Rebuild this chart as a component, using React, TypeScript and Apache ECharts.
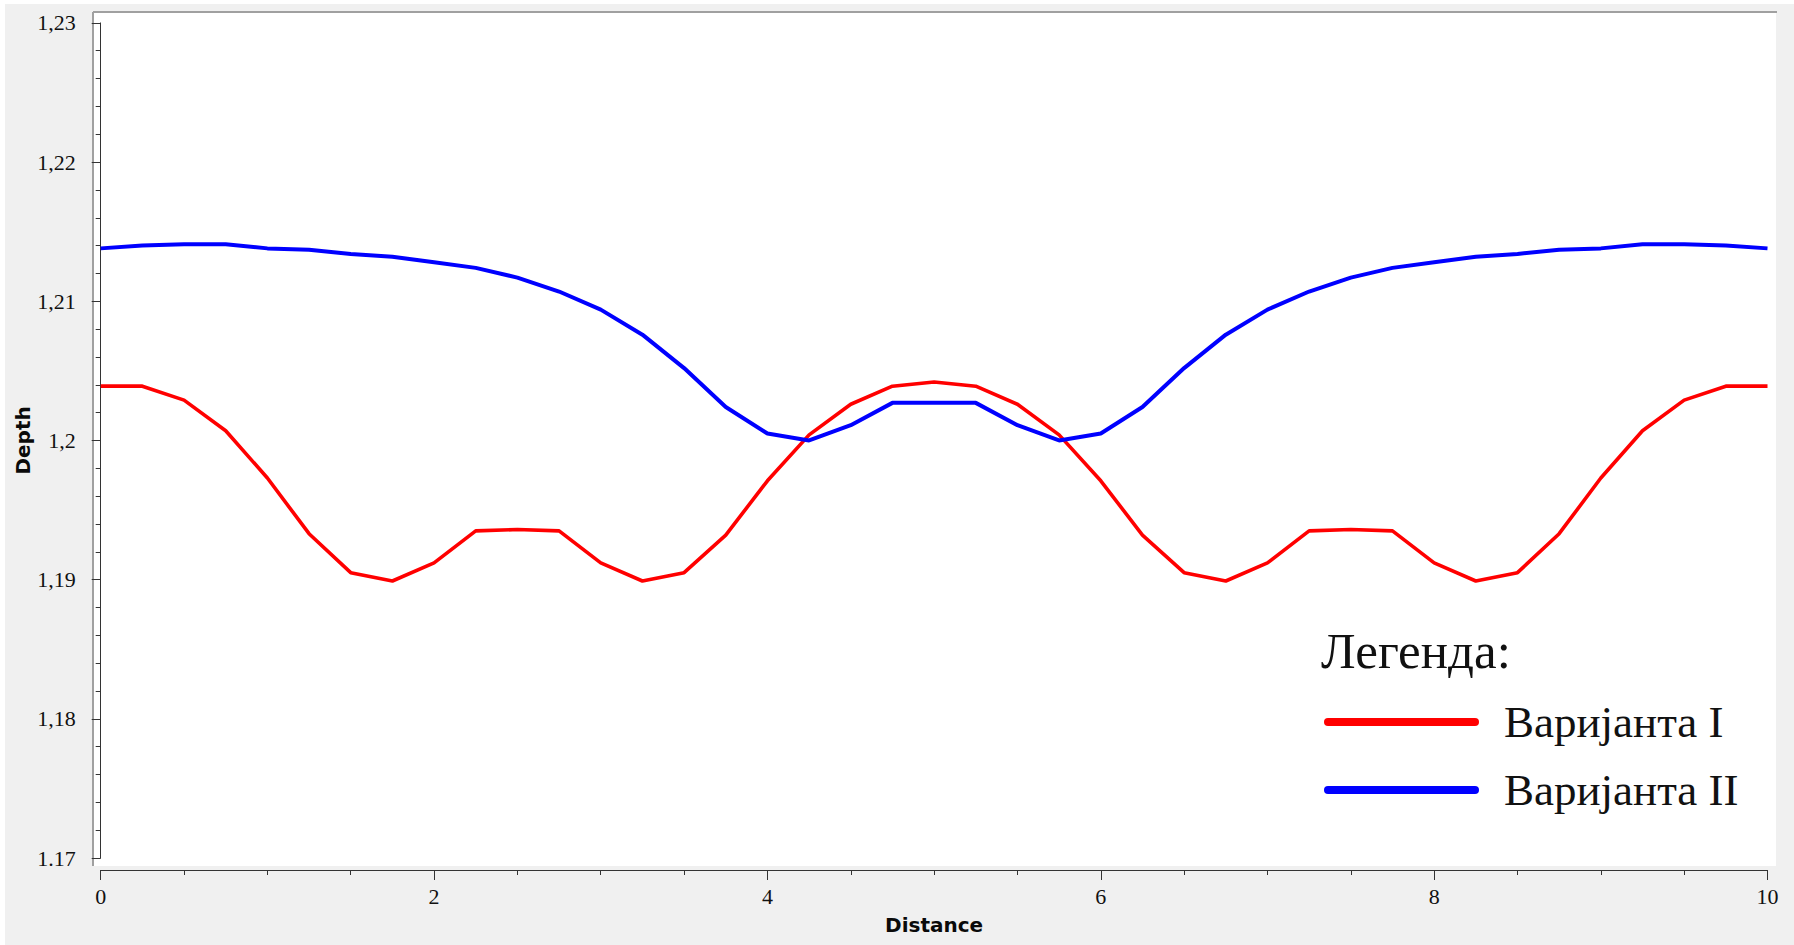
import React, { useEffect, useRef } from "react";
import * as echarts from "echarts";

const distance = [
  0, 0.25, 0.5, 0.75, 1, 1.25, 1.5, 1.75, 2, 2.25, 2.5, 2.75, 3, 3.25, 3.5, 3.75, 4, 4.25, 4.5, 4.75, 5,
  5.25, 5.5, 5.75, 6, 6.25, 6.5, 6.75, 7, 7.25, 7.5, 7.75, 8, 8.25, 8.5, 8.75, 9, 9.25, 9.5, 9.75, 10,
];

const varijantaI = [
  1.2039, 1.2039, 1.2029, 1.2007, 1.1973, 1.1933, 1.1905, 1.1899, 1.1912, 1.1935, 1.1936, 1.1935, 1.1912,
  1.1899, 1.1905, 1.1932, 1.1971, 1.2004, 1.2026, 1.2039, 1.2042,
  1.2039, 1.2026, 1.2004, 1.1971, 1.1932, 1.1905, 1.1899, 1.1912, 1.1935, 1.1936, 1.1935, 1.1912, 1.1899,
  1.1905, 1.1933, 1.1973, 1.2007, 1.2029, 1.2039, 1.2039,
];

const varijantaII = [
  1.2138, 1.214, 1.2141, 1.2141, 1.2138, 1.2137, 1.2134, 1.2132, 1.2128, 1.2124, 1.2117, 1.2107, 1.2094,
  1.2076, 1.2052, 1.2024, 1.2005, 1.2, 1.2011, 1.2027, 1.2027,
  1.2027, 1.2011, 1.2, 1.2005, 1.2024, 1.2052, 1.2076, 1.2094, 1.2107, 1.2117, 1.2124, 1.2128, 1.2132,
  1.2134, 1.2137, 1.2138, 1.2141, 1.2141, 1.214, 1.2138,
];

const seriesNames = ["Варијанта I", "Варијанта II"];
const seriesColors = ["#ff0000", "#0000ff"];
const yTickLabels = ["1.17", "1,18", "1,19", "1,2", "1,21", "1,22", "1,23"];
const yMin = 1.17;
const yMax = 1.23;
const yStep = 0.01;
const xMin = 0;
const xMax = 10;
const xStep = 2;
const legendTitle = "Легенда:";
const xName = "Distance";
const yName = "Depth";

const capsule = "path://M4,0 L151,0 A4,4 0 0 1 151,8 L4,8 A4,4 0 0 1 4,0 Z";

export default function App() {
  const ref = useRef<HTMLDivElement>(null);

  useEffect(() => {
    if (!ref.current) return;
    const chart = echarts.init(ref.current, null, { renderer: "svg" });
    const axisColor = "#333333";
    const tickFont = { fontFamily: "Liberation Serif", fontSize: 22, color: "#111111" };
    const nameFont = { fontFamily: "DejaVu Sans", fontWeight: "bold" as const, fontSize: 20, color: "#0a0a0a" };

    chart.setOption({
      animation: false,
      backgroundColor: "#ffffff",
      grid: { left: 100.7, right: 26.5, top: 22.9, bottom: 87, containLabel: false },
      graphic: [
        { type: "rect", z: -100, silent: true, shape: { x: 5, y: 4, width: 1789, height: 941 }, style: { fill: "#f0f0f0" } },
        { type: "rect", z: -99, silent: true, shape: { x: 94, y: 12, width: 1682, height: 854 }, style: { fill: "#ffffff" } },
        { type: "line", z: -98, silent: true, shape: { x1: 93, y1: 12, x2: 1777, y2: 12 }, style: { stroke: "#a0a0a0", lineWidth: 2 } },
        { type: "line", z: -98, silent: true, shape: { x1: 93, y1: 12, x2: 93, y2: 866 }, style: { stroke: "#a0a0a0", lineWidth: 2 } },
        {
          type: "text",
          x: 1321,
          y: 651,
          style: {
            text: legendTitle,
            fontFamily: "Liberation Serif",
            fontSize: 51,
            fill: "#111111",
            verticalAlign: "middle",
            align: "left",
          },
        },
      ],
      legend: {
        orient: "vertical",
        left: 1324,
        top: 697,
        padding: 0,
        itemGap: 18,
        itemWidth: 155,
        itemHeight: 8,
        icon: capsule,
        data: seriesNames,
        textStyle: {
          fontFamily: "Liberation Serif",
          fontSize: 45,
          color: "#111111",
          lineHeight: 50,
          padding: [0, 0, 0, 20],
        },
      },
      xAxis: {
        type: "value",
        min: xMin,
        max: xMax,
        interval: xStep,
        offset: 12,
        name: xName,
        nameLocation: "middle",
        nameGap: 45,
        nameMoveOverlap: false,
        nameTextStyle: nameFont,
        axisLine: { show: true, lineStyle: { color: axisColor, width: 1 } },
        axisTick: { show: true, length: 10, lineStyle: { color: axisColor } },
        minorTick: { show: true, splitNumber: 4, length: 5, lineStyle: { color: axisColor } },
        splitLine: { show: false },
        axisLabel: { ...tickFont, margin: 15 },
      },
      yAxis: {
        type: "value",
        min: yMin,
        max: yMax,
        interval: yStep,
        offset: 10,
        name: yName,
        nameLocation: "middle",
        nameGap: 58,
        nameMoveOverlap: false,
        nameRotate: 90,
        nameTextStyle: nameFont,
        axisLine: { show: true, lineStyle: { color: axisColor, width: 1 } },
        axisTick: { show: true, length: 9, lineStyle: { color: axisColor } },
        minorTick: { show: true, splitNumber: 5, length: 5, lineStyle: { color: axisColor } },
        splitLine: { show: false },
        axisLabel: {
          ...tickFont,
          margin: 15,
          formatter: (v: number) => {
            const idx = Math.round((v - yMin) / yStep);
            return yTickLabels[idx] ?? String(v);
          },
        },
      },
      series: [
        {
          name: seriesNames[0],
          type: "line",
          color: seriesColors[0],
          showSymbol: false,
          symbol: "none",
          lineStyle: { color: seriesColors[0], width: 3.6 },
          data: distance.map((d, i) => [d, varijantaI[i]]),
        },
        {
          name: seriesNames[1],
          type: "line",
          color: seriesColors[1],
          showSymbol: false,
          symbol: "none",
          lineStyle: { color: seriesColors[1], width: 4 },
          data: distance.map((d, i) => [d, varijantaII[i]]),
        },
      ],
    });

    return () => chart.dispose();
  }, []);

  return (
    <div
      ref={ref}
      style={{ position: "fixed", left: 0, top: 0, width: 1794, height: 945 }}
    />
  );
}
